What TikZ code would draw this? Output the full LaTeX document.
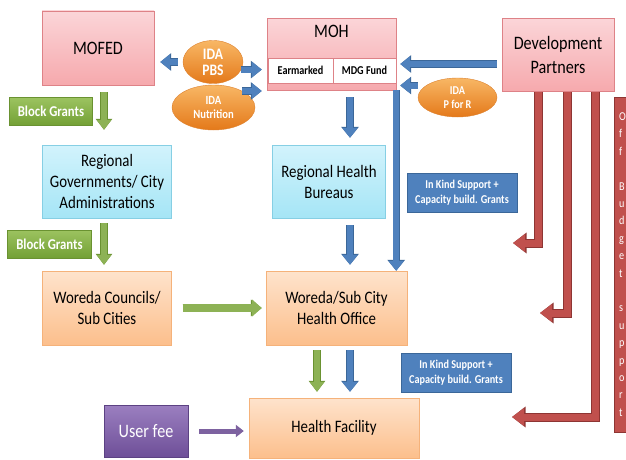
\documentclass[tikz,border=0pt]{standalone}
\usepackage{fontspec}
\setmainfont{Carlito}[FakeStretch=0.85]
\usepackage{xcolor}
\definecolor{mypink1}{HTML}{FBD5D8}
\definecolor{mypink2}{HTML}{F6A9AD}
\definecolor{mypinkd}{HTML}{DE8287}
\definecolor{mycyan1}{HTML}{D2F3FC}
\definecolor{mycyan2}{HTML}{A5E5F6}
\definecolor{mycyand}{HTML}{86CFE4}
\definecolor{mypeach1}{HTML}{FEE3CC}
\definecolor{mypeach2}{HTML}{FCBF8C}
\definecolor{mypeachd}{HTML}{F5B27A}
\definecolor{myora1}{HTML}{F8B765}
\definecolor{myora2}{HTML}{E4791A}
\definecolor{myorad}{HTML}{DD8230}
\definecolor{mygre1}{HTML}{9CC360}
\definecolor{mygre2}{HTML}{73A035}
\definecolor{mygred}{HTML}{6A9231}
\definecolor{mygrea}{HTML}{8DB255}
\definecolor{myblue}{HTML}{4F81BD}
\definecolor{mybluedk}{HTML}{3B6799}
\definecolor{mypur1}{HTML}{9B7FC0}
\definecolor{mypur2}{HTML}{6E4F98}
\definecolor{mypurd}{HTML}{5C4283}
\definecolor{mypura}{HTML}{7D62A0}
\definecolor{myred}{HTML}{C0504D}
\definecolor{myreddk}{HTML}{8E3533}
\usepackage{tikz}
\usetikzlibrary{positioning}
\usetikzlibrary{shapes.geometric, arrows.meta}
\tikzstyle{ministry} = [rectangle, align=center, draw=mypinkd, top color=mypink1, bottom color=mypink2, font=\fontsize{19}{24}\selectfont]
\tikzstyle{fundpart} = [rectangle, minimum height=25pt, inner sep=0pt, outer sep=0pt, draw=mypinkd, fill=white, font=\bfseries\fontsize{12}{14}\selectfont]
\tikzstyle{region} = [rectangle, align=center, draw=mycyand, top color=mycyan1, bottom color=mycyan2, font=\fontsize{17.5}{21}\selectfont]
\tikzstyle{woreda} = [rectangle, align=center, draw=mypeachd, top color=mypeach1, bottom color=mypeach2, font=\fontsize{17.5}{21}\selectfont]
\tikzstyle{ida} = [ellipse, align=center, inner sep=0pt, draw=myorad, top color=myora1, bottom color=myora2, text=white, font=\bfseries]
\tikzstyle{grant} = [rectangle, minimum height=28pt, inner sep=2pt, draw=mygred, top color=mygre1, bottom color=mygre2, text=white, font=\bfseries\fontsize{15}{18}\selectfont]
\tikzstyle{inkind} = [rectangle, minimum width=110pt, minimum height=39pt, inner sep=1pt, align=center, draw=mybluedk, fill=myblue, text=white, font=\bfseries\fontsize{12}{14.5}\selectfont]
\tikzstyle{payment} = [rectangle, minimum width=84pt, minimum height=52pt, draw=mypurd, top color=mypur1, bottom color=mypur2, text=white, font=\fontsize{19}{23}\selectfont]
\tikzstyle{notebox} = [rectangle, text width=30pt, minimum height=335pt, inner xsep=5pt, align=left, draw=myreddk, fill=myred, text=white, font=\fontsize{12}{17.4}\selectfont]
\tikzstyle{blueflow} = [line width=6pt, myblue, -{Triangle[length=10pt,width=15pt]}, preaction={draw=mybluedk, line width=7.4pt, -{Triangle[length=11pt,width=17pt]}}]
\tikzstyle{greenflow} = [line width=6pt, mygrea, -{Triangle[length=10pt,width=14pt]}, preaction={draw=mygred, line width=7.4pt, -{Triangle[length=11pt,width=16pt]}}]
\tikzstyle{purpleflow} = [line width=5pt, mypura, -{Triangle[length=8pt,width=12pt]}]
\tikzstyle{redflow} = [line width=7pt, myred, line join=miter, -{Triangle[length=12pt,width=17pt]}, preaction={draw=myreddk, line width=9pt, -{Triangle[length=13.5pt,width=20pt]}}]

\begin{document}
\begin{tikzpicture}[x=1pt,y=-1pt]
	\clip (0,0) rectangle (626,460);
	\coordinate (bluex) at (350,0);
	\coordinate (greenx) at (317,0);
	\coordinate (grantx) at (104,0);
	\coordinate (red1) at (513,243);
	\coordinate (red2) at (540,313);
	\coordinate (red3) at (512,417);
	% top row
	\node (mofed)[ministry, minimum width=112pt, minimum height=74pt] at (98,48) {MOFED};
	\node (moh)[ministry, minimum width=129pt, anchor=north, inner ysep=4pt, text height=15pt, text depth=49pt] at (331.5,18) {MOH};
	\node (earmarked)[fundpart, minimum width=65pt] at (300.5,70.5) {Earmarked};
	\node (mdg)[fundpart, minimum width=63pt, right=0pt of earmarked] {MDG Fund};
	\node (devp)[ministry, minimum width=112pt, minimum height=73pt] at (558,55) {Development\\Partners};
	\node (pbs)[ida, minimum width=60pt, minimum height=43pt, font=\bfseries\fontsize{16}{16}\selectfont] at (213,62) {IDA\\PBS};
	\node (nutrition)[ida, minimum width=83pt, minimum height=45pt, font=\bfseries\fontsize{12.5}{14}\selectfont] at (213.5,107.5) {IDA\\Nutrition};
	\node (pfr)[ida, minimum width=79pt, minimum height=39pt, font=\bfseries\fontsize{12}{14}\selectfont] at (457.5,97.5) {IDA\\P for R};
	% middle rows
	\node (grants1)[grant, minimum width=83pt] at (51,111.5) {Block Grants};
	\node (regov)[region, minimum width=129pt, minimum height=73pt] at (107,181.5) {Regional\\Governments/ City\\Administrations};
	\node (rhb)[region, minimum width=113pt, minimum height=73pt] at (329,181.5) {Regional Health\\Bureaus};
	\node (kind1)[inkind] at (462,192.5) {In Kind Support +\\Capacity build. Grants};
	\node (grants2)[grant, minimum width=84pt] at (49.5,244) {Block Grants};
	\node (wcouncil)[woreda, minimum width=129pt, minimum height=74pt] at (107,308) {Woreda Councils/\\Sub Cities};
	\node (hoffice)[woreda, minimum width=141pt, minimum height=74pt] at (336.5,308) {Woreda/Sub City\\Health Office};
	\node (kind2)[inkind] at (456,372.5) {In Kind Support +\\Capacity build. Grants};
	% bottom row
	\node (userfee)[payment] at (146,431) {User fee};
	\node (hfacility)[woreda, minimum width=170pt, minimum height=60pt] at (334,428) {Health Facility};
	\node (notes)[notebox, anchor=west] at (614,264.5) {O\\f\\f\\[17.4pt]B\\u\\d\\g\\e\\t\\[17.4pt]s\\u\\p\\p\\o\\r\\t};
	% funds
	\draw [blueflow, shorten <=5pt, shorten >=6pt] (pbs.west) -- (pbs.west -| mofed.east);
	\draw [blueflow, shorten >=5pt] (pbs.-15) -- (pbs.-15 -| moh.west);
	\draw [blueflow, shorten >=5pt] (nutrition.30) -- (nutrition.30 -| moh.west);
	\draw [blueflow, shorten <=5pt, shorten >=4pt] ([yshift=-9pt]devp.west) -- ([yshift=-9pt]devp.west -| moh.east);
	\draw [blueflow, shorten >=4pt] ([yshift=12pt]pfr.west) -- ([yshift=12pt]pfr.west -| moh.east);
	\draw [blueflow, shorten <=7pt, shorten >=7pt] (bluex |- moh.south) -- (bluex |- rhb.north);
	\draw [blueflow, shorten <=7pt, shorten >=6pt] (bluex |- rhb.south) -- (bluex |- hoffice.north);
	\draw [blueflow] (moh.south east) -- (moh.south east |- hoffice.north);
	\draw [blueflow, shorten <=5pt, shorten >=6pt] (bluex |- hoffice.south) -- (bluex |- hfacility.north);
	\draw [greenflow, shorten <=5pt, shorten >=6pt] (greenx |- hoffice.south) -- (greenx |- hfacility.north);
	\draw [greenflow, shorten <=7pt, shorten >=15pt] (grantx |- mofed.south) -- (grantx |- regov.north);
	\draw [greenflow, shorten <=5pt, shorten >=6pt] (grantx |- regov.south) -- (grantx |- wcouncil.north);
	\draw [greenflow, line width=8pt, -{Triangle[length=10pt,width=17pt]}, shorten <=11pt, shorten >=4pt] (wcouncil.east) -- (hoffice.west);
	\draw [purpleflow, shorten <=11pt, shorten >=5pt] (userfee.east) -- (userfee.east -| hfacility.west);
	\draw [redflow] ([xshift=-20pt]devp.south) |- (red1);
	\draw [redflow] ([xshift=9pt]devp.south) |- (red2);
	\draw [redflow] ([xshift=37pt]devp.south) |- (red3);
\end{tikzpicture}
\end{document}
